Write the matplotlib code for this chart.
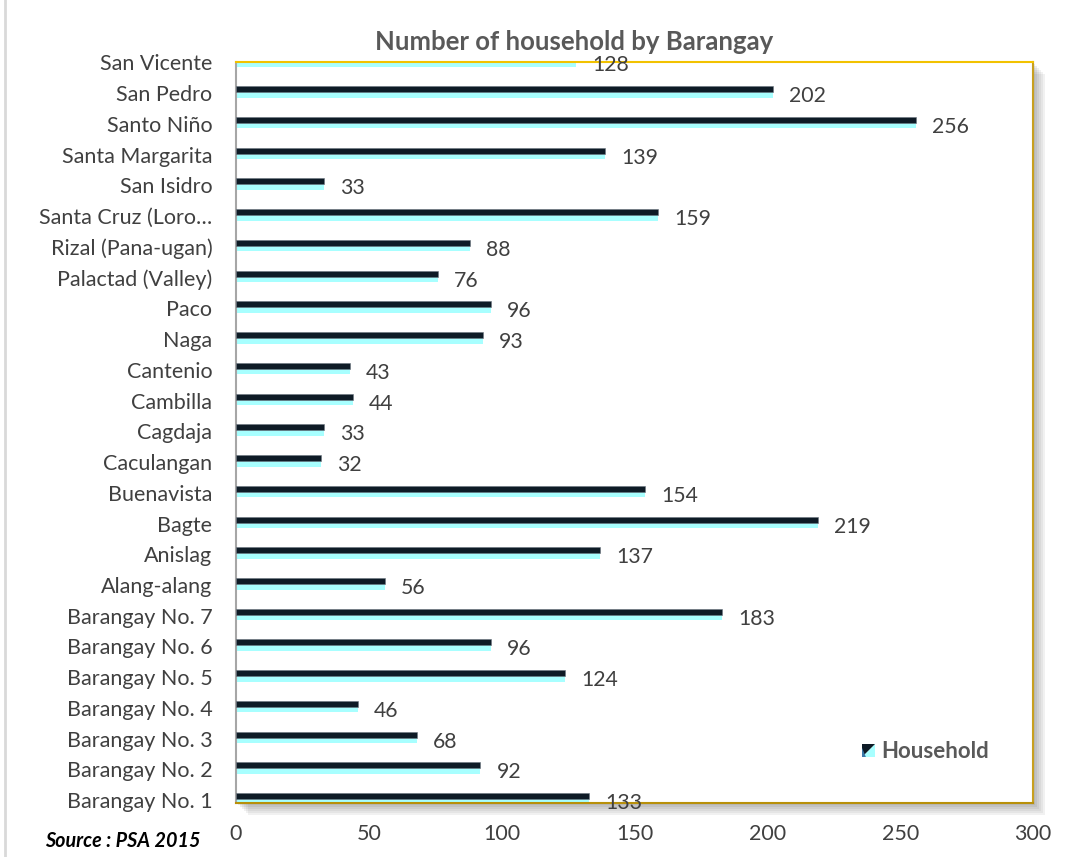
import matplotlib
matplotlib.use("Agg")
import matplotlib.pyplot as plt
from matplotlib.patches import Rectangle, Polygon
import numpy as np

categories = ["Barangay No. 1", "Barangay No. 2", "Barangay No. 3", "Barangay No. 4",
              "Barangay No. 5", "Barangay No. 6", "Barangay No. 7", "Alang-alang",
              "Anislag", "Bagte", "Buenavista", "Caculangan", "Cagdaja", "Cambilla",
              "Cantenio", "Naga", "Paco", "Palactad (Valley)", "Rizal (Pana-ugan)",
              "Santa Cruz (Loro\u2026", "San Isidro", "Santa Margarita", "Santo Niño",
              "San Pedro", "San Vicente"]
households = [133, 92, 68, 46, 124, 96, 183, 56, 137, 219, 154, 32, 33, 44, 43,
              93, 96, 76, 88, 159, 33, 139, 256, 202, 128]
xticks = [0, 50, 100, 150, 200, 250, 300]

plt.rcParams['font.family'] = ['Lato', 'DejaVu Sans']
TXT = '#404040'
DARK = '#0e1b26'
CYAN = '#a8ffff'

W, H = 1082, 857
fig = plt.figure(figsize=(W / 100, H / 100), dpi=100)
fig.patch.set_facecolor('white')

def fx(px):
    return px / W

def fy(py):
    return 1 - py / H

# outer chart frame
fig.add_artist(Rectangle((fx(5), fy(870)), fx(1100), 1.2, transform=fig.transFigure,
                         fill=False, edgecolor='#d9d9d9', linewidth=2))

# plot area
left, right, top, bottom = 236, 1033, 62, 803
ax_rect = [fx(left), fy(bottom), fx(right - left), (bottom - top) / H]

# shadow
for i, a in enumerate([0.10, 0.10, 0.10, 0.12, 0.14, 0.16]):
    off = 12 - 2 * i
    fig.add_artist(Rectangle((fx(left + off), fy(bottom + off)), fx(right - left), (bottom - top) / H,
                             transform=fig.transFigure, facecolor='#7f7f7f', edgecolor='none',
                             alpha=a, zorder=0))

ax = fig.add_axes(ax_rect, zorder=1)
ax.set_facecolor('white')

y = np.arange(len(categories))
px_unit = 30.75
ax.barh(y - 4.5 / px_unit, households, height=5.5 / px_unit, align='edge', color=CYAN, zorder=2)
ax.barh(y + 1 / px_unit, households, height=6 / px_unit, align='edge', color=DARK,
        edgecolor='#6b7580', linewidth=0.4, zorder=3)

for yi, v in zip(y, households):
    ax.annotate(str(v), (v, yi), xytext=(16, -3), textcoords='offset pixels',
                ha='left', va='center', fontsize=15.3, color=TXT, zorder=5,
                annotation_clip=False)

ax.set_xlim(0, 300)
ax.set_ylim(-0.09, 24.01)
ax.set_xticks(xticks)
ax.set_yticks(y)
ax.set_yticklabels(categories)
ax.tick_params(axis='both', length=0, labelsize=15.5, labelcolor=TXT)
ax.tick_params(axis='y', pad=17)
ax.tick_params(axis='x', pad=15)

ax.spines['left'].set_color('#a6a6a6')
ax.spines['left'].set_linewidth(1.5)
ax.spines['top'].set_color('#f2c200')
ax.spines['right'].set_color('#c8a020')
ax.spines['bottom'].set_color('#b8900a')
for s in ['top', 'right', 'bottom']:
    ax.spines[s].set_linewidth(1.5)

fig.text(fx(574), fy(42), 'Number of household by Barangay', ha='center', va='center',
         fontsize=18.5, fontweight='bold', color='#595959')

fig.text(fx(45), fy(841), 'Source : PSA 2015', ha='left', va='center',
         fontsize=14.2, fontweight='bold', fontstyle='italic', color='black')

# legend
x0, x1, y0, y1 = fx(862), fx(875), fy(757), fy(744)
fig.add_artist(Polygon([[x0, y0], [x1, y0], [x1, y1]], closed=True, transform=fig.transFigure,
                       facecolor=CYAN, edgecolor='none', zorder=6))
fig.add_artist(Polygon([[x0, y0], [x0, y1], [x1, y1]], closed=True, transform=fig.transFigure,
                       facecolor=DARK, edgecolor='none', zorder=6))
fig.add_artist(Polygon([[x0, y0], [x0, y0 + (y1 - y0) * 0.7], [x0 + (x1 - x0) * 0.3, y0]], closed=True,
                       transform=fig.transFigure, facecolor='#3a78a8', edgecolor='none', zorder=7))
fig.text(fx(881), fy(751), 'Household', ha='left', va='center', fontsize=16,
         fontweight='bold', color='#595959', zorder=7)

fig.savefig('out.png', dpi=100, facecolor='white')
